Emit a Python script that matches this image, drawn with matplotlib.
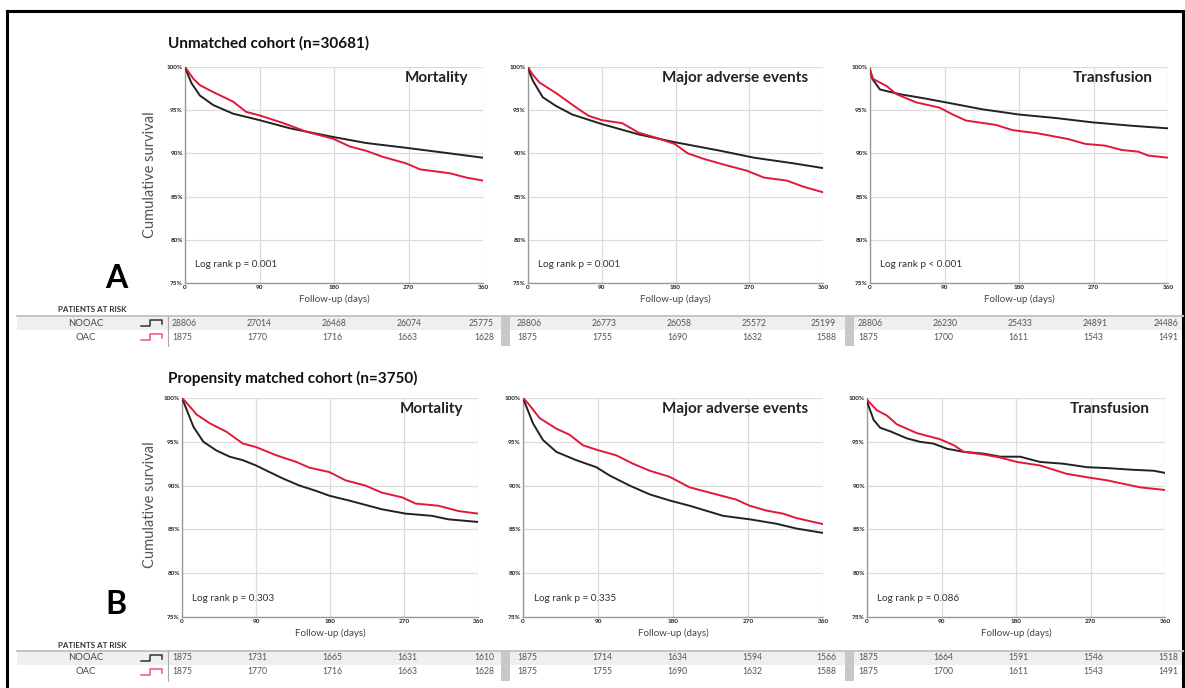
import matplotlib.pyplot as plt

plt.rcParams['font.family'] = ['Lato', 'DejaVu Sans']

W, H = 1185, 688

# ---- survival curves (day, cumulative survival %) ----
# A: unmatched cohort
A_MORT_NOOAC_DAYS = [0, 4, 8, 18, 34, 58, 90, 127, 179, 219, 267, 320, 360]
A_MORT_NOOAC_SURV = [100, 99.0, 98.1, 96.7, 95.6, 94.6, 93.85, 92.9, 91.9, 91.2, 90.65, 90.0, 89.5]
A_MORT_OAC_DAYS = [0, 10, 18, 34, 58, 74, 90, 119, 147, 179, 199, 219, 239, 267, 284, 320, 340, 360]
A_MORT_OAC_SURV = [100, 98.65, 97.9, 97.1, 96.0, 94.8, 94.4, 93.5, 92.5, 91.7, 90.8, 90.3, 89.6, 88.85, 88.15, 87.7, 87.2, 86.85]

A_MAE_NOOAC_DAYS = [0, 3, 6, 18, 34, 54, 90, 135, 179, 235, 276, 324, 360]
A_MAE_NOOAC_SURV = [100, 99.1, 98.4, 96.5, 95.5, 94.5, 93.4, 92.2, 91.3, 90.3, 89.5, 88.85, 88.3]
A_MAE_OAC_DAYS = [0, 5, 14, 34, 62, 74, 90, 115, 135, 155, 179, 195, 215, 243, 267, 288, 316, 336, 360]
A_MAE_OAC_SURV = [100, 99.2, 98.2, 97.0, 95.1, 94.35, 93.85, 93.5, 92.4, 91.85, 91.1, 90.0, 89.35, 88.6, 88.0, 87.2, 86.85, 86.15, 85.5]

A_TRANS_NOOAC_DAYS = [0, 3, 12, 36, 64, 92, 136, 180, 224, 268, 316, 360]
A_TRANS_NOOAC_SURV = [99.7, 98.6, 97.4, 96.85, 96.4, 95.9, 95.1, 94.5, 94.1, 93.6, 93.2, 92.9]
A_TRANS_OAC_DAYS = [0, 4, 20, 32, 56, 84, 100, 116, 152, 172, 204, 240, 260, 284, 304, 324, 336, 360]
A_TRANS_OAC_SURV = [99.6, 98.6, 97.8, 96.85, 95.9, 95.3, 94.5, 93.8, 93.3, 92.7, 92.3, 91.65, 91.1, 90.9, 90.4, 90.2, 89.75, 89.5]

# B: propensity matched cohort
B_MORT_NOOAC_DAYS = [0, 14, 26, 42, 58, 74, 90, 103, 123, 143, 163, 179, 203, 243, 272, 304, 324, 360]
B_MORT_NOOAC_SURV = [100, 96.7, 95.0, 94.0, 93.3, 92.9, 92.3, 91.7, 90.8, 90.0, 89.4, 88.85, 88.3, 87.3, 86.8, 86.55, 86.15, 85.85]
B_MORT_OAC_DAYS = [0, 6, 18, 34, 54, 74, 90, 115, 139, 155, 179, 199, 223, 243, 268, 284, 312, 336, 360]
B_MORT_OAC_SURV = [100, 99.4, 98.1, 97.1, 96.15, 94.8, 94.4, 93.45, 92.7, 92.05, 91.55, 90.6, 90.0, 89.2, 88.65, 87.95, 87.7, 87.1, 86.8]

B_MAE_NOOAC_DAYS = [0, 12, 24, 40, 64, 88, 104, 128, 152, 176, 200, 240, 272, 304, 328, 360]
B_MAE_NOOAC_SURV = [100, 97.1, 95.2, 93.85, 92.9, 92.1, 91.15, 90.0, 89.0, 88.3, 87.7, 86.55, 86.15, 85.65, 85.1, 84.6]
B_MAE_OAC_DAYS = [0, 6, 20, 40, 56, 72, 88, 112, 132, 152, 176, 200, 232, 256, 272, 292, 312, 328, 360]
B_MAE_OAC_SURV = [100, 99.4, 97.7, 96.5, 95.8, 94.6, 94.1, 93.45, 92.5, 91.7, 91.0, 89.8, 89.0, 88.4, 87.7, 87.15, 86.8, 86.3, 85.6]

B_TRANS_NOOAC_DAYS = [0, 8, 16, 28, 48, 64, 80, 97, 117, 141, 161, 185, 209, 237, 266, 290, 322, 346, 360]
B_TRANS_NOOAC_SURV = [99.6, 97.5, 96.6, 96.2, 95.4, 95.0, 94.8, 94.2, 93.85, 93.65, 93.3, 93.3, 92.7, 92.5, 92.1, 92.0, 91.8, 91.7, 91.45]
B_TRANS_OAC_DAYS = [0, 12, 24, 36, 60, 88, 105, 117, 141, 161, 181, 209, 241, 266, 290, 310, 330, 360]
B_TRANS_OAC_SURV = [99.8, 98.6, 98.0, 97.0, 96.0, 95.3, 94.6, 93.85, 93.55, 93.2, 92.7, 92.3, 91.35, 90.95, 90.6, 90.2, 89.8, 89.5]

# ---- patients at risk at day 0, 90, 180, 270, 360 ----
A_MORT_NOOAC_RISK = [28806, 27014, 26468, 26074, 25775]
A_MORT_OAC_RISK = [1875, 1770, 1716, 1663, 1628]
A_MAE_NOOAC_RISK = [28806, 26773, 26058, 25572, 25199]
A_MAE_OAC_RISK = [1875, 1755, 1690, 1632, 1588]
A_TRANS_NOOAC_RISK = [28806, 26230, 25433, 24891, 24486]
A_TRANS_OAC_RISK = [1875, 1700, 1611, 1543, 1491]
B_MORT_NOOAC_RISK = [1875, 1731, 1665, 1631, 1610]
B_MORT_OAC_RISK = [1875, 1770, 1716, 1663, 1628]
B_MAE_NOOAC_RISK = [1875, 1714, 1634, 1594, 1566]
B_MAE_OAC_RISK = [1875, 1755, 1690, 1632, 1588]
B_TRANS_NOOAC_RISK = [1875, 1664, 1591, 1546, 1518]
B_TRANS_OAC_RISK = [1875, 1700, 1611, 1543, 1491]

PANEL_TITLES = ['Mortality', 'Major adverse events', 'Transfusion']
A_PVALUES = ['Log rank p = 0.001', 'Log rank p = 0.001', 'Log rank p < 0.001']
B_PVALUES = ['Log rank p = 0.303', 'Log rank p = 0.335', 'Log rank p = 0.086']
X_TICKS = [0, 90, 180, 270, 360]
Y_TICKS = [75, 80, 85, 90, 95, 100]

RED = '#e3173a'
BLACK = '#222222'
PINK = '#f0507a'


def rect(x0, y0, x1, y1):
    # pixel box (top-left origin) -> figure fraction
    return [x0 / W, 1 - y1 / H, (x1 - x0) / W, (y1 - y0) / H]


fig = plt.figure(figsize=(W / 100, H / 100), dpi=100)
fig.patch.set_facecolor('white')

# overlay in pixel coordinates for frame, labels and the risk tables
ov = fig.add_axes([0, 0, 1, 1])
ov.set_xlim(0, W)
ov.set_ylim(H, 0)
ov.axis('off')
ov.patch.set_alpha(0)

# black frame
ov.plot([7, 7], [11, H], color='black', lw=2.2)
ov.plot([7, 1183], [11, 11], color='black', lw=2.2)
ov.plot([1183, 1183], [11, H], color='black', lw=2.2)


def draw_panel(box, nooac, oac, title, ptext):
    ax = fig.add_axes(rect(*box))
    ax.plot(nooac[0], nooac[1], color=BLACK, lw=1.4, zorder=3)
    ax.plot(oac[0], oac[1], color=RED, lw=1.4, zorder=4)
    ax.set_xlim(0, 360)
    ax.set_ylim(75, 100)
    ax.set_xticks(X_TICKS)
    ax.set_yticks(Y_TICKS)
    ax.set_yticklabels([f'{v}%' for v in Y_TICKS])
    ax.tick_params(length=0, labelsize=4.6, colors='#222222', pad=1.5)
    for lab in ax.get_xticklabels() + ax.get_yticklabels():
        lab.set_fontweight('bold')
    ax.grid(True, color='#dcdcdc', lw=0.9)
    ax.set_axisbelow(True)
    for s in ['top', 'right']:
        ax.spines[s].set_visible(False)
    for s in ['left', 'bottom']:
        ax.spines[s].set_color('#9a9a9a')
        ax.spines[s].set_linewidth(1.0)
    ax.set_xlabel('Follow-up (days)', fontsize=7, color='#444444', labelpad=3)
    ax.text(0.95, 0.95, title, transform=ax.transAxes, ha='right', va='center',
            fontsize=11, fontweight='bold', color='#222222')
    ax.text(0.035, 0.085, ptext, transform=ax.transAxes, ha='left', va='center',
            fontsize=7.2, color='#333333')
    return ax


A_BOXES = [(185, 67, 483, 283), (528, 67, 823, 283), (870, 67, 1168, 283)]
B_BOXES = [(182, 398, 478, 617), (523, 398, 823, 617), (867, 398, 1165, 617)]

A_CURVES = [((A_MORT_NOOAC_DAYS, A_MORT_NOOAC_SURV), (A_MORT_OAC_DAYS, A_MORT_OAC_SURV)),
            ((A_MAE_NOOAC_DAYS, A_MAE_NOOAC_SURV), (A_MAE_OAC_DAYS, A_MAE_OAC_SURV)),
            ((A_TRANS_NOOAC_DAYS, A_TRANS_NOOAC_SURV), (A_TRANS_OAC_DAYS, A_TRANS_OAC_SURV))]
B_CURVES = [((B_MORT_NOOAC_DAYS, B_MORT_NOOAC_SURV), (B_MORT_OAC_DAYS, B_MORT_OAC_SURV)),
            ((B_MAE_NOOAC_DAYS, B_MAE_NOOAC_SURV), (B_MAE_OAC_DAYS, B_MAE_OAC_SURV)),
            ((B_TRANS_NOOAC_DAYS, B_TRANS_NOOAC_SURV), (B_TRANS_OAC_DAYS, B_TRANS_OAC_SURV))]
A_RISK = [(A_MORT_NOOAC_RISK, A_MORT_OAC_RISK), (A_MAE_NOOAC_RISK, A_MAE_OAC_RISK),
          (A_TRANS_NOOAC_RISK, A_TRANS_OAC_RISK)]
B_RISK = [(B_MORT_NOOAC_RISK, B_MORT_OAC_RISK), (B_MAE_NOOAC_RISK, B_MAE_OAC_RISK),
          (B_TRANS_NOOAC_RISK, B_TRANS_OAC_RISK)]

# table column layout in pixels
SEC_START = [172, 517, 858]
SEC_END = [494, 836, 1178]
COL_STEP = 75
SEPARATORS = [(501, 510), (845, 854)]


def draw_block(boxes, curves, pvals, risks, heading, hy, letter, ly, ylab_y, tbl_top):
    for box, (c_n, c_o), title, p in zip(boxes, curves, PANEL_TITLES, pvals):
        draw_panel(box, c_n, c_o, title, p)
    ov.text(168, hy, heading, fontsize=11, fontweight='bold', color='#111111',
            ha='left', va='center')
    ov.text(116, ly, letter, fontsize=23, fontweight='bold', color='black',
            ha='center', va='center')
    ov.text(150, ylab_y, 'Cumulative survival', fontsize=10.5, color='#555555',
            rotation=90, ha='center', va='center')
    ov.text(92, tbl_top - 6, 'PATIENTS AT RISK', fontsize=5.8, fontweight='bold',
            color='#333333', ha='center', va='center')

    row_h = 14
    y_n = tbl_top + row_h / 2
    y_o = tbl_top + row_h * 1.5
    bottom = tbl_top + row_h * 2 + 2
    ov.fill_between([17, 1183], tbl_top, tbl_top + row_h, color='#efefef', lw=0, zorder=0)
    ov.plot([17, 1183], [tbl_top, tbl_top], color='#c4c4c4', lw=1.4)
    ov.plot([168, 168], [tbl_top, bottom], color='#aaaaaa', lw=0.8)
    for x0, x1 in SEPARATORS:
        ov.fill_between([x0, x1], tbl_top, bottom, color='#c8c8c8', lw=0, zorder=1)

    for label, y, col in [('NOOAC', y_n, '#333333'), ('OAC', y_o, PINK)]:
        ov.text(86, y, label, fontsize=6.8, color='#444444', ha='center', va='center')
        ov.plot([141, 150, 150, 162, 162], [y + 3, y + 3, y - 3, y - 3, y + 1],
                color=col, lw=1.1)

    for s0, s1, (r_n, r_o) in zip(SEC_START, SEC_END, risks):
        for vals, y in [(r_n, y_n), (r_o, y_o)]:
            for k, v in enumerate(vals):
                if k < len(vals) - 1:
                    ov.text(s0 + k * COL_STEP, y, str(v), fontsize=6.2, color='#555555',
                            ha='left', va='center')
                else:
                    ov.text(s1, y, str(v), fontsize=6.2, color='#555555',
                            ha='right', va='center')


draw_block(A_BOXES, A_CURVES, A_PVALUES, A_RISK, 'Unmatched cohort (n=30681)',
           43, 'A', 279, 175, 316)
draw_block(B_BOXES, B_CURVES, B_PVALUES, B_RISK, 'Propensity matched cohort (n=3750)',
           378, 'B', 604, 505, 651)

fig.savefig('out.png', dpi=100, facecolor='white')
